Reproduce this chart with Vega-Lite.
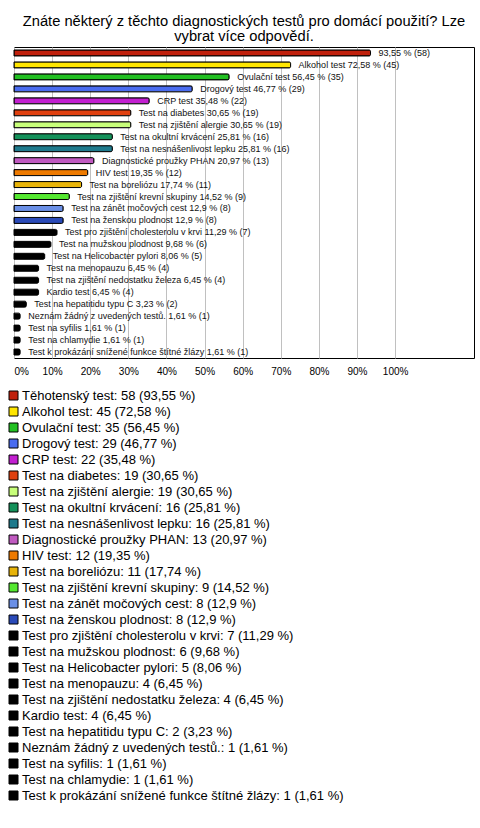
{
  "$schema": "https://vega.github.io/schema/vega-lite/v6.json",
  "width": 460,
  "height": 311,
  "padding": {"left": 7, "top": 13, "right": 9, "bottom": 5},
  "background": "white",
  "title": {
    "text": ["Znáte některý z těchto diagnostických testů pro domácí použití? Lze", "vybrat více odpovědí."],
    "font": "Liberation Sans",
    "fontSize": 14.7,
    "fontWeight": "normal",
    "color": "black",
    "lineHeight": 15.5,
    "anchor": "middle",
    "offset": 3
  },
  "config": {
    "view": {"stroke": "black", "strokeWidth": 1},
    "font": "Liberation Sans"
  },
  "data": {
    "values": [
      {"name": "Těhotenský test", "n": 58, "pct": 93.55, "lbl": "93,55 % (58)", "leg": "Těhotenský test: 58 (93,55 %)"},
      {"name": "Alkohol test", "n": 45, "pct": 72.58, "lbl": "Alkohol test 72,58 % (45)", "leg": "Alkohol test: 45 (72,58 %)"},
      {"name": "Ovulační test", "n": 35, "pct": 56.45, "lbl": "Ovulační test 56,45 % (35)", "leg": "Ovulační test: 35 (56,45 %)"},
      {"name": "Drogový test", "n": 29, "pct": 46.77, "lbl": "Drogový test 46,77 % (29)", "leg": "Drogový test: 29 (46,77 %)"},
      {"name": "CRP test", "n": 22, "pct": 35.48, "lbl": "CRP test 35,48 % (22)", "leg": "CRP test: 22 (35,48 %)"},
      {"name": "Test na diabetes", "n": 19, "pct": 30.65, "lbl": "Test na diabetes 30,65 % (19)", "leg": "Test na diabetes: 19 (30,65 %)"},
      {"name": "Test na zjištění alergie", "n": 19, "pct": 30.65, "lbl": "Test na zjištění alergie 30,65 % (19)", "leg": "Test na zjištění alergie: 19 (30,65 %)"},
      {"name": "Test na okultní krvácení", "n": 16, "pct": 25.81, "lbl": "Test na okultní krvácení 25,81 % (16)", "leg": "Test na okultní krvácení: 16 (25,81 %)"},
      {"name": "Test na nesnášenlivost lepku", "n": 16, "pct": 25.81, "lbl": "Test na nesnášenlivost lepku 25,81 % (16)", "leg": "Test na nesnášenlivost lepku: 16 (25,81 %)"},
      {"name": "Diagnostické proužky PHAN", "n": 13, "pct": 20.97, "lbl": "Diagnostické proužky PHAN 20,97 % (13)", "leg": "Diagnostické proužky PHAN: 13 (20,97 %)"},
      {"name": "HIV test", "n": 12, "pct": 19.35, "lbl": "HIV test 19,35 % (12)", "leg": "HIV test: 12 (19,35 %)"},
      {"name": "Test na boreliózu", "n": 11, "pct": 17.74, "lbl": "Test na boreliózu 17,74 % (11)", "leg": "Test na boreliózu: 11 (17,74 %)"},
      {"name": "Test na zjištění krevní skupiny", "n": 9, "pct": 14.52, "lbl": "Test na zjištění krevní skupiny 14,52 % (9)", "leg": "Test na zjištění krevní skupiny: 9 (14,52 %)"},
      {"name": "Test na zánět močových cest", "n": 8, "pct": 12.9, "lbl": "Test na zánět močových cest 12,9 % (8)", "leg": "Test na zánět močových cest: 8 (12,9 %)"},
      {"name": "Test na ženskou plodnost", "n": 8, "pct": 12.9, "lbl": "Test na ženskou plodnost 12,9 % (8)", "leg": "Test na ženskou plodnost: 8 (12,9 %)"},
      {"name": "Test pro zjištění cholesterolu v krvi", "n": 7, "pct": 11.29, "lbl": "Test pro zjištění cholesterolu v krvi 11,29 % (7)", "leg": "Test pro zjištění cholesterolu v krvi: 7 (11,29 %)"},
      {"name": "Test na mužskou plodnost", "n": 6, "pct": 9.68, "lbl": "Test na mužskou plodnost 9,68 % (6)", "leg": "Test na mužskou plodnost: 6 (9,68 %)"},
      {"name": "Test na Helicobacter pylori", "n": 5, "pct": 8.06, "lbl": "Test na Helicobacter pylori 8,06 % (5)", "leg": "Test na Helicobacter pylori: 5 (8,06 %)"},
      {"name": "Test na menopauzu", "n": 4, "pct": 6.45, "lbl": "Test na menopauzu 6,45 % (4)", "leg": "Test na menopauzu: 4 (6,45 %)"},
      {"name": "Test na zjištění nedostatku železa", "n": 4, "pct": 6.45, "lbl": "Test na zjištění nedostatku železa 6,45 % (4)", "leg": "Test na zjištění nedostatku železa: 4 (6,45 %)"},
      {"name": "Kardio test", "n": 4, "pct": 6.45, "lbl": "Kardio test 6,45 % (4)", "leg": "Kardio test: 4 (6,45 %)"},
      {"name": "Test na hepatitidu typu C", "n": 2, "pct": 3.23, "lbl": "Test na hepatitidu typu C 3,23 % (2)", "leg": "Test na hepatitidu typu C: 2 (3,23 %)"},
      {"name": "Neznám žádný z uvedených testů.", "n": 1, "pct": 1.61, "lbl": "Neznám žádný z uvedených testů. 1,61 % (1)", "leg": "Neznám žádný z uvedených testů.: 1 (1,61 %)"},
      {"name": "Test na syfilis", "n": 1, "pct": 1.61, "lbl": "Test na syfilis 1,61 % (1)", "leg": "Test na syfilis: 1 (1,61 %)"},
      {"name": "Test na chlamydie", "n": 1, "pct": 1.61, "lbl": "Test na chlamydie 1,61 % (1)", "leg": "Test na chlamydie: 1 (1,61 %)"},
      {"name": "Test k prokázání snížené funkce štítné žlázy", "n": 1, "pct": 1.61, "lbl": "Test k prokázání snížené funkce štítné žlázy 1,61 % (1)", "leg": "Test k prokázání snížené funkce štítné žlázy: 1 (1,61 %)"}
    ]
  },
  "encoding": {
    "y": {"field": "name", "type": "nominal", "sort": null, "axis": null, "scale": {"paddingInner": 0, "paddingOuter": 0}},
    "x": {
      "field": "pct", "type": "quantitative",
      "scale": {"domain": [0, 120.7], "nice": false, "zero": true},
      "axis": {
        "title": null,
        "values": [0, 10, 20, 30, 40, 50, 60, 70, 80, 90, 100],
        "labelExpr": "datum.value + '%'",
        "ticks": false,
        "domain": false,
        "grid": true,
        "gridColor": "#c0c0c0",
        "gridWidth": 1,
        "labelFont": "Liberation Sans",
        "labelFontSize": 10,
        "labelColor": "black",
        "labelPadding": 8
      }
    }
  },
  "layer": [
    {
      "mark": {"type": "bar", "height": 6, "stroke": "black", "strokeWidth": 1, "cornerRadiusEnd": 1.5},
      "encoding": {
        "color": {
          "field": "leg", "type": "nominal",
          "scale": {
            "domain": [
              "Těhotenský test: 58 (93,55 %)", "Alkohol test: 45 (72,58 %)", "Ovulační test: 35 (56,45 %)", "Drogový test: 29 (46,77 %)", "CRP test: 22 (35,48 %)", "Test na diabetes: 19 (30,65 %)", "Test na zjištění alergie: 19 (30,65 %)", "Test na okultní krvácení: 16 (25,81 %)", "Test na nesnášenlivost lepku: 16 (25,81 %)", "Diagnostické proužky PHAN: 13 (20,97 %)", "HIV test: 12 (19,35 %)", "Test na boreliózu: 11 (17,74 %)", "Test na zjištění krevní skupiny: 9 (14,52 %)", "Test na zánět močových cest: 8 (12,9 %)", "Test na ženskou plodnost: 8 (12,9 %)", "Test pro zjištění cholesterolu v krvi: 7 (11,29 %)", "Test na mužskou plodnost: 6 (9,68 %)", "Test na Helicobacter pylori: 5 (8,06 %)", "Test na menopauzu: 4 (6,45 %)", "Test na zjištění nedostatku železa: 4 (6,45 %)", "Kardio test: 4 (6,45 %)", "Test na hepatitidu typu C: 2 (3,23 %)", "Neznám žádný z uvedených testů.: 1 (1,61 %)", "Test na syfilis: 1 (1,61 %)", "Test na chlamydie: 1 (1,61 %)", "Test k prokázání snížené funkce štítné žlázy: 1 (1,61 %)"
            ],
            "range": ["#C0200C", "#FFE600", "#22C022", "#4A6CF0", "#C21FD0", "#E0400F", "#C8FF7A", "#14915A", "#1F7A8C", "#C05AC0", "#EE7A00", "#E8B40A", "#55E830", "#6A8FE6", "#2A4AB8", "#000000", "#000000", "#000000", "#000000", "#000000", "#000000", "#000000", "#000000", "#000000", "#000000", "#000000"]
          },
          "legend": {
            "title": null,
            "orient": "none",
            "legendX": -7,
            "legendY": 342,
            "direction": "vertical",
            "symbolType": "square",
            "symbolSize": 81,
            "symbolStrokeColor": "black",
            "symbolStrokeWidth": 1,
            "symbolOpacity": 1,
            "labelFont": "Liberation Sans",
            "labelFontSize": 13,
            "labelColor": "black",
            "labelLimit": 0,
            "labelOffset": 2,
            "rowPadding": 2
          }
        }
      }
    },
    {
      "mark": {"type": "text", "align": "left", "baseline": "middle", "dx": 8, "font": "Liberation Sans", "fontSize": 9, "color": "#111"},
      "encoding": {"text": {"field": "lbl"}}
    }
  ]
}
